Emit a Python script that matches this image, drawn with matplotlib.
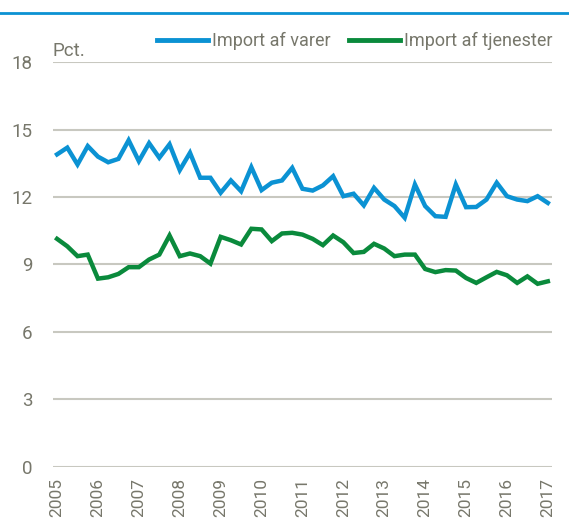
import numpy as np
import matplotlib
matplotlib.use('Agg')
import matplotlib.pyplot as plt
from matplotlib.lines import Line2D

# Quarterly data, 2005 Q1 - 2017 Q1 (pct.)
start_year = 2005
varer = [13.9, 14.2, 13.45, 14.27, 13.8, 13.55, 13.7, 14.53, 13.6, 14.4,
         13.75, 14.35, 13.2, 13.97, 12.86, 12.86, 12.19, 12.74, 12.26, 13.33,
         12.31, 12.64, 12.74, 13.3, 12.37, 12.29, 12.52, 12.93, 12.04, 12.15,
         11.63, 12.41, 11.89, 11.6, 11.08, 12.56, 11.6, 11.15, 11.12, 12.56,
         11.55, 11.56, 11.89, 12.64, 12.04, 11.89, 11.82, 12.04, 11.74]
tjenester = [10.14, 9.81, 9.37, 9.44, 8.37, 8.43, 8.58, 8.88, 8.88, 9.22,
             9.44, 10.29, 9.37, 9.49, 9.37, 9.04, 10.23, 10.08, 9.89, 10.59,
             10.56, 10.04, 10.38, 10.41, 10.33, 10.14, 9.86, 10.29, 9.99, 9.51,
             9.56, 9.92, 9.71, 9.37, 9.44, 9.44, 8.8, 8.66, 8.75, 8.73,
             8.4, 8.18, 8.43, 8.67, 8.52, 8.18, 8.47, 8.14, 8.25]
years = list(range(2005, 2018))
yticks = [0, 3, 6, 9, 12, 15, 18]

x = start_year + np.arange(len(varer)) / 4.0

blue = '#0b92d3'
green = '#0a8a3c'
grey_text = '#77776b'
grid_col = '#c8c8c0'

plt.rcParams['font.family'] = ['Roboto', 'DejaVu Sans']

fig = plt.figure(figsize=(5.69, 5.19), dpi=100)
ax = fig.add_axes([0.0931, 0.1008, 0.8769, 0.7792])

ax.plot(x, varer, color=blue, linewidth=3.2, solid_joinstyle='miter')
ax.plot(x, tjenester, color=green, linewidth=3.2, solid_joinstyle='miter')

ax.set_xlim(start_year - 0.1, 2017.1)
ax.set_ylim(0, 18)
ax.set_yticks(yticks)
ax.set_xticks(years)
ax.set_xticklabels([str(y) for y in years], rotation=90, va='top', ha='center')
ax.tick_params(axis='both', length=0, colors=grey_text)
ax.tick_params(axis='y', pad=15, labelsize=13.5)
ax.tick_params(axis='x', pad=8, labelsize=12.5)
ax.yaxis.grid(True, color=grid_col, linewidth=1.5)
ax.set_axisbelow(True)
for s in ax.spines.values():
    s.set_visible(False)

fig.text(53 / 569, 1 - 51 / 519, 'Pct.', color=grey_text, fontsize=13.5,
         ha='left', va='center')

# top rule
fig.add_artist(Line2D([0, 1], [1 - 13 / 519, 1 - 13 / 519], color=blue,
                      linewidth=2.0, transform=fig.transFigure))

handles = [Line2D([], [], color=blue, linewidth=3.5),
           Line2D([], [], color=green, linewidth=3.5)]
leg = fig.legend(handles, ['Import af varer', 'Import af tjenester'],
                 loc='center', bbox_to_anchor=(0.624, 1 - 41 / 519), ncol=2,
                 frameon=False, fontsize=13, handlelength=2.8,
                 handletextpad=0.25, columnspacing=1.0)
for t in leg.get_texts():
    t.set_color(grey_text)

fig.savefig('out.png', dpi=100)
